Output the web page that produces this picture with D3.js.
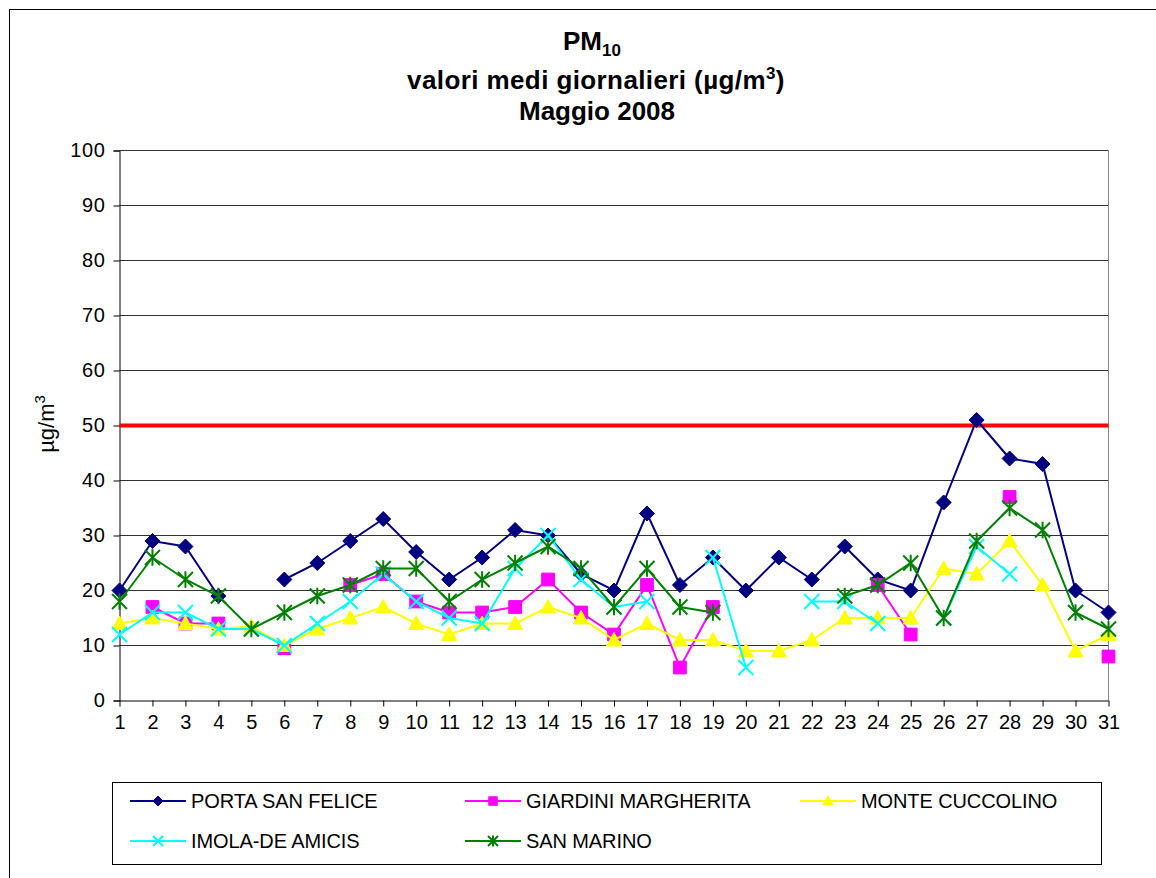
<!DOCTYPE html>
<html><head><meta charset="utf-8">
<script src="https://cdn.jsdelivr.net/npm/d3@7"></script>
<style>body{margin:0;background:#fff}svg{display:block;font-family:"Liberation Sans",Arial,sans-serif}</style>
</head><body><svg id="c" width="1156" height="878"></svg>
<script>
const days = d3.range(1, 32);
const yTicks = [0,10,20,30,40,50,60,70,80,90,100];
const limitValue = 50;
const seriesNames = ["PORTA SAN FELICE","GIARDINI MARGHERITA","MONTE CUCCOLINO","IMOLA-DE AMICIS","SAN MARINO"];
const seriesColors = ["#000080","#FF00FF","#FFFF00","#00FFFF","#008000"];
const seriesMarkers = ["diamond","square","triangle","x","star"];
const portaSanFelice = [20,29,28,19,null,22,25,29,33,27,22,26,31,30,23,20,34,21,26,20,26,22,28,22,20,36,51,44,43,20,16];
const giardiniMargherita = [null,17,14,14,null,9.5,null,21,23,18,16,16,17,22,16,12,21,6,17,null,null,null,null,21,12,null,null,37,null,null,8];
const monteCuccolino = [14,15,14,13,13.5,10,13,15,17,14,12,14,14,17,15,11,14,11,11,9,9,11,15,15,15,24,23,29,21,9,12];
const imolaDeAmicis = [12,16,16,13,13,10,14,18,23,18,15,14,24,30,22,17,18,null,26,6,null,18,18,14,null,15,28,23,null,null,null];
const sanMarino = [18,26,22,19,13,16,19,21,24,24,18,22,25,28,24,17,24,17,16,null,null,null,19,21,25,15,29,35,31,16,13];
const seriesValues = [portaSanFelice, giardiniMargherita, monteCuccolino, imolaDeAmicis, sanMarino];

const svg = d3.select("#c");
svg.append("rect").attr("x",9.5).attr("y",9.5).attr("width",1160).attr("height",880)
  .attr("fill","none").attr("stroke","#000").attr("stroke-width",1);

const x = d3.scalePoint().domain(days).range([119.5, 1108.5]);
const y = d3.scaleLinear().domain([0,100]).range([700.5, 150.5]);

// title
const t1 = svg.append("text").attr("text-anchor","middle").attr("font-weight","bold").attr("font-size",26).attr("x",592).attr("y",50);
t1.append("tspan").text("PM");
t1.append("tspan").attr("font-size",17).attr("dy",6).text("10");
const t2 = svg.append("text").attr("text-anchor","middle").attr("font-weight","bold").attr("font-size",26).attr("x",596).attr("y",89).attr("letter-spacing",0.4);
t2.append("tspan").text("valori medi giornalieri (µg/m");
t2.append("tspan").attr("font-size",17).attr("dy",-10).text("3");
t2.append("tspan").attr("dy",10).text(")");
svg.append("text").attr("text-anchor","middle").attr("font-weight","bold").attr("font-size",26).attr("x",597).attr("y",120).text("Maggio 2008");

// gridlines
svg.append("g").selectAll("line").data(yTicks.filter(d=>d>0)).join("line")
  .attr("x1",119.5).attr("x2",1108.5).attr("y1",d=>y(d)).attr("y2",d=>y(d))
  .attr("stroke","#333").attr("stroke-width",1);
svg.append("line").attr("x1",1108.5).attr("x2",1108.5).attr("y1",150.5).attr("y2",700.5).attr("stroke","#888").attr("stroke-width",1);

// y axis
const yAxis = d3.axisLeft(y).tickValues(yTicks).tickSize(6).tickPadding(8);
const gy = svg.append("g").attr("transform","translate(119.5,0)").call(yAxis);
gy.select(".domain").attr("stroke","#000");
gy.selectAll(".tick line").attr("stroke","#000");
gy.selectAll(".tick text").attr("font-size",20).attr("letter-spacing",0.6).attr("font-family","Liberation Sans, Arial, sans-serif").attr("fill","#000");

// x axis
const xAxis = d3.axisBottom(x).tickSize(6).tickPadding(8);
const gx = svg.append("g").attr("transform","translate(0,700.5)").call(xAxis);
gx.select(".domain").attr("stroke","#000").attr("d","M119.5,0.5H1108.5");
gx.selectAll(".tick line").attr("stroke","#000");
gx.selectAll(".tick text").attr("font-size",20).attr("font-family","Liberation Sans, Arial, sans-serif").attr("fill","#000");

// y axis title
const yt = svg.append("text").attr("transform","translate(54,424) rotate(-90)").attr("text-anchor","middle").attr("font-size",22);
yt.append("tspan").text("µg/m");
yt.append("tspan").attr("font-size",15).attr("dy",-9).text("3");

// limit line
svg.append("path").datum(days).attr("fill","none").attr("stroke","#FF0000").attr("stroke-width",4)
  .attr("d", d3.line().x(d=>x(d)).y(()=>y(limitValue)));

function markerPath(type, s) {
  const h = s/2;
  switch(type){
    case "diamond": return `M0,${-h}L${h},0L0,${h}L${-h},0Z`;
    case "square": { const q=h*0.85; return `M${-q},${-q}H${q}V${q}H${-q}Z`; }
    case "triangle": return `M0,${-h}L${h},${h*0.8}L${-h},${h*0.8}Z`;
    case "x": return `M${-h},${-h}L${h},${h}M${-h},${h}L${h},${-h}`;
    case "star": return `M${-h},${-h}L${h},${h}M${-h},${h}L${h},${-h}M0,${-h*1.1}V${h*1.1}`;
  }
}
function drawMarker(g, type, color, s) {
  const filled = type==="diamond"||type==="square"||type==="triangle";
  g.append("path").attr("d", markerPath(type, s))
    .attr("fill", filled?color:"none").attr("stroke", color).attr("stroke-width", filled?1:2);
}

seriesValues.forEach((vals, i) => {
  const pts = days.map((d, j) => ({d, v: vals[j]}));
  const line = d3.line().defined(p=>p.v!==null).x(p=>x(p.d)).y(p=>y(p.v));
  svg.append("path").datum(pts).attr("fill","none").attr("stroke",seriesColors[i]).attr("stroke-width",2).attr("d",line);
  const mg = svg.append("g");
  pts.filter(p=>p.v!==null).forEach(p=>{
    const g = mg.append("g").attr("transform",`translate(${x(p.d)},${y(p.v)})`);
    drawMarker(g, seriesMarkers[i], seriesColors[i], 15);
  });
});

// legend
svg.append("rect").attr("x",112.5).attr("y",782.5).attr("width",989).attr("height",82).attr("fill","#fff").attr("stroke","#000").attr("stroke-width",1);
const legendPos = [[130,801],[465,801],[800,801],[130,841],[465,841]];
seriesNames.forEach((n,i)=>{
  const [lx,ly] = legendPos[i];
  svg.append("line").attr("x1",lx).attr("x2",lx+56).attr("y1",ly).attr("y2",ly).attr("stroke",seriesColors[i]).attr("stroke-width",2);
  const g = svg.append("g").attr("transform",`translate(${lx+28},${ly})`);
  drawMarker(g, seriesMarkers[i], seriesColors[i], 10);
  svg.append("text").attr("x",lx+61).attr("y",ly+7).attr("font-size",20).attr("letter-spacing",-0.1).text(n);
});
</script></body></html>
